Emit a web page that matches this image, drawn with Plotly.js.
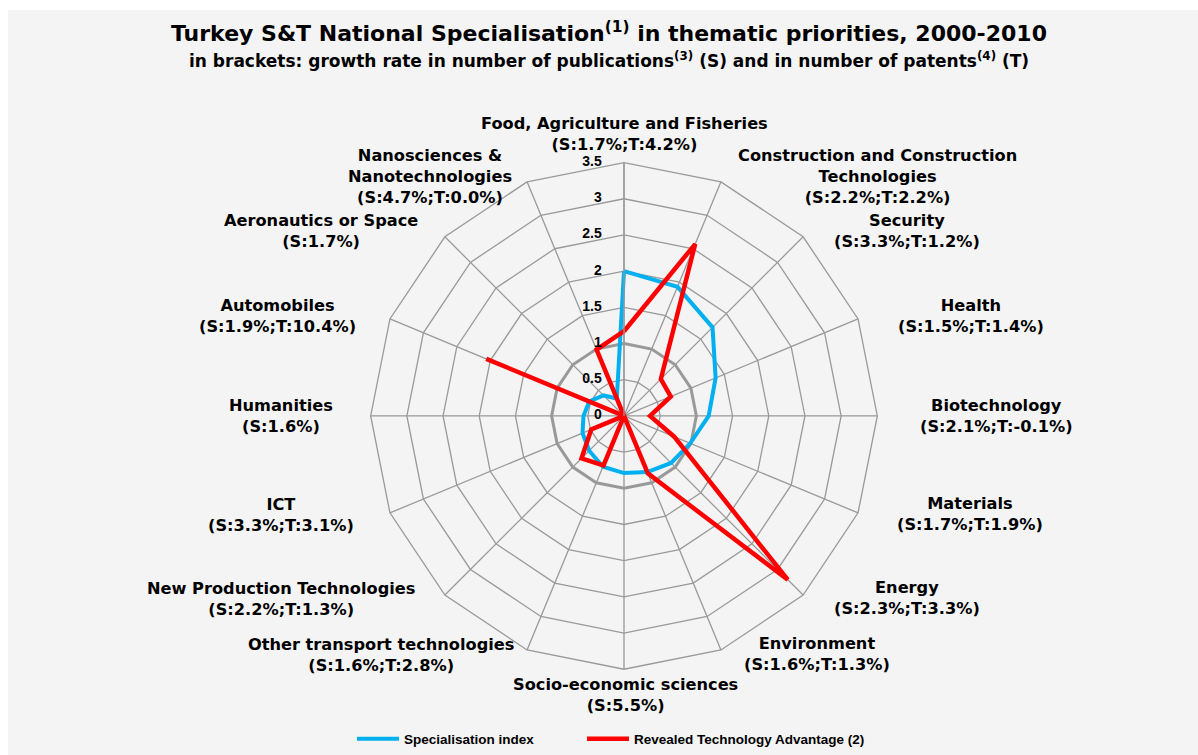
<!DOCTYPE html>
<html>
<head>
<meta charset="utf-8">
<script src="https://cdn.plot.ly/plotly-3.0.1.min.js"></script>
<style>
  html, body { margin: 0; padding: 0; background: #ffffff; }
  #chart { position: absolute; left: 8px; top: 10px; width: 1190px; height: 745px; }
</style>
</head>
<body>
<div id="chart"></div>
<script>
// ---- data ----
const categories = [
  "Food, Agriculture and Fisheries",
  "Construction and Construction Technologies",
  "Security",
  "Health",
  "Biotechnology",
  "Materials",
  "Energy",
  "Environment",
  "Socio-economic sciences",
  "Other transport technologies",
  "New Production Technologies",
  "ICT",
  "Humanities",
  "Automobiles",
  "Aeronautics or Space",
  "Nanosciences & Nanotechnologies"
];
const categoryDisplay = [
  "Food, Agriculture and Fisheries",
  "Construction and Construction<br>Technologies",
  "Security",
  "Health",
  "Biotechnology",
  "Materials",
  "Energy",
  "Environment",
  "Socio-economic sciences",
  "Other transport technologies",
  "New Production Technologies",
  "ICT",
  "Humanities",
  "Automobiles",
  "Aeronautics or Space",
  "Nanosciences &<br>Nanotechnologies"
];
const growthRates = [
  "(S:1.7%;T:4.2%)",
  "(S:2.2%;T:2.2%)",
  "(S:3.3%;T:1.2%)",
  "(S:1.5%;T:1.4%)",
  "(S:2.1%;T:-0.1%)",
  "(S:1.7%;T:1.9%)",
  "(S:2.3%;T:3.3%)",
  "(S:1.6%;T:1.3%)",
  "(S:5.5%)",
  "(S:1.6%;T:2.8%)",
  "(S:2.2%;T:1.3%)",
  "(S:3.3%;T:3.1%)",
  "(S:1.6%)",
  "(S:1.9%;T:10.4%)",
  "(S:1.7%)",
  "(S:4.7%;T:0.0%)"
];
const specialisationIndex = [2.0, 1.93, 1.73, 1.37, 1.17, 0.99, 0.92, 0.84, 0.79, 0.76, 0.68, 0.62, 0.56, 0.52, 0.40, 0.26];
const revealedTechAdvantage = [1.17, 2.57, 0.72, 0.70, 0.36, 0.75, 3.2, 0.86, 0.0, 0.74, 0.83, 0.49, 0.0, 2.06, 0.0, 0.99];
const referenceLevel = 1; // neutral specialisation level (thick ring)
const seriesNames = ["Specialisation index", "Revealed Technology Advantage (2)"];
const radialTicks = [0, 0.5, 1, 1.5, 2, 2.5, 3, 3.5];
const radialTickLabels = ["0", "0.5", "1", "1.5", "2", "2.5", "3", "3.5"];

// ---- helpers ----
function closeLoop(a) { return a.concat([a[0]]); }
const thetaClosed = closeLoop(categories);

const W = 1190, H = 745, OX = 8, OY = 10;
function px(x) { return (x - OX) / W; }
function py(y) { return 1 - (y - OY) / H; }

const WIDE = "DejaVu Sans, Verdana, sans-serif";
const ARIAL = "Liberation Sans, Arial, sans-serif";
const labelFont = { family: WIDE, size: 16.2, color: "#000000", weight: "bold" };

// label centres (image pixel coords)
const labelPos = [
  [624, 134], [877, 177], [907, 232], [971, 317], [996, 417], [970, 515],
  [907, 600], [817, 656], [625, 697], [381, 657], [281, 601], [281, 516],
  [281, 417], [277, 317], [321, 232], [430, 177]
];

const annotations = categories.map((c, i) => ({
  text: categoryDisplay[i] + "<br>" + growthRates[i],
  x: px(labelPos[i][0]), y: py(labelPos[i][1]),
  xref: "paper", yref: "paper", xanchor: "center", yanchor: "middle",
  showarrow: false, font: labelFont, align: "center"
}));
annotations.push({
  text: "Turkey S&T National Specialisation<sup>(1)</sup> in thematic priorities, 2000-2010",
  x: px(609), y: py(32), xref: "paper", yref: "paper", xanchor: "center", yanchor: "middle",
  showarrow: false, font: { family: WIDE, size: 22, color: "#000", weight: "bold" }
});
annotations.push({
  text: "in brackets: growth rate in number of publications<sup>(3)</sup> (S) and in number of patents<sup>(4)</sup> (T)",
  x: px(609), y: py(60), xref: "paper", yref: "paper", xanchor: "center", yanchor: "middle",
  showarrow: false, font: { family: WIDE, size: 17, color: "#000", weight: "bold" }
});

const R = 254, CX = 624 - OX, CY = 417 - OY;

const traces = [
  {
    type: "scatterpolar", mode: "lines",
    r: categories.map(() => referenceLevel).concat([referenceLevel]),
    theta: thetaClosed, showlegend: false, hoverinfo: "skip",
    line: { color: "#999999", width: 3 }
  },
  {
    type: "scatterpolar", mode: "lines", name: seriesNames[0], legend: "legend",
    r: closeLoop(specialisationIndex), theta: thetaClosed,
    line: { color: "#00B0F0", width: 4 }
  },
  {
    type: "scatterpolar", mode: "lines", name: seriesNames[1], legend: "legend2",
    r: closeLoop(revealedTechAdvantage), theta: thetaClosed,
    line: { color: "#FF0000", width: 4.5 }
  },
  {
    // radial tick labels, placed on the vertical (first category) spoke
    // (the centre label is nudged off r=0, which Plotly does not draw for text points)
    type: "scatterpolar", mode: "markers+text", showlegend: false, hoverinfo: "skip",
    r: radialTicks.map(v => Math.max(v, 1e-4)), theta: radialTicks.map(() => categories[0]),
    marker: { size: 34, color: "rgba(0,0,0,0)", line: { width: 0 } },
    text: radialTickLabels, textposition: "middle left",
    textfont: { family: ARIAL, size: 14, color: "#000", weight: "bold" },
    cliponaxis: false
  }
];

const legendFont = { family: ARIAL, size: 13.5, color: "#000", weight: "bold" };
const layout = {
  width: W, height: H,
  margin: { l: 0, r: 0, t: 0, b: 0 },
  paper_bgcolor: "#f4f4f4",
  font: { family: ARIAL, color: "#000" },
  showlegend: true,
  legend: {
    orientation: "h", x: px(352), xanchor: "left", y: py(741), yanchor: "middle",
    font: legendFont, bgcolor: "rgba(0,0,0,0)", itemwidth: 42
  },
  legend2: {
    orientation: "h", x: px(582), xanchor: "left", y: py(741), yanchor: "middle",
    font: legendFont, bgcolor: "rgba(0,0,0,0)", itemwidth: 42
  },
  polar: {
    domain: { x: [(CX - R) / W, (CX + R) / W], y: [1 - (CY + R) / H, 1 - (CY - R) / H] },
    bgcolor: "#f4f4f4",
    gridshape: "linear",
    angularaxis: {
      direction: "clockwise", rotation: 90,
      showticklabels: false, ticks: "",
      showgrid: true, gridcolor: "#999999", gridwidth: 1.3,
      showline: true, linecolor: "#999999", linewidth: 1.3
    },
    radialaxis: {
      range: [0, 3.5], tickvals: radialTicks, showticklabels: false,
      angle: 90, ticks: "",
      showline: true, linecolor: "#999999", linewidth: 1.3,
      gridcolor: "#999999", gridwidth: 1.3
    }
  },
  annotations: annotations
};

Plotly.newPlot("chart", traces, layout, { displayModeBar: false, staticPlot: true });
</script>
</body>
</html>
